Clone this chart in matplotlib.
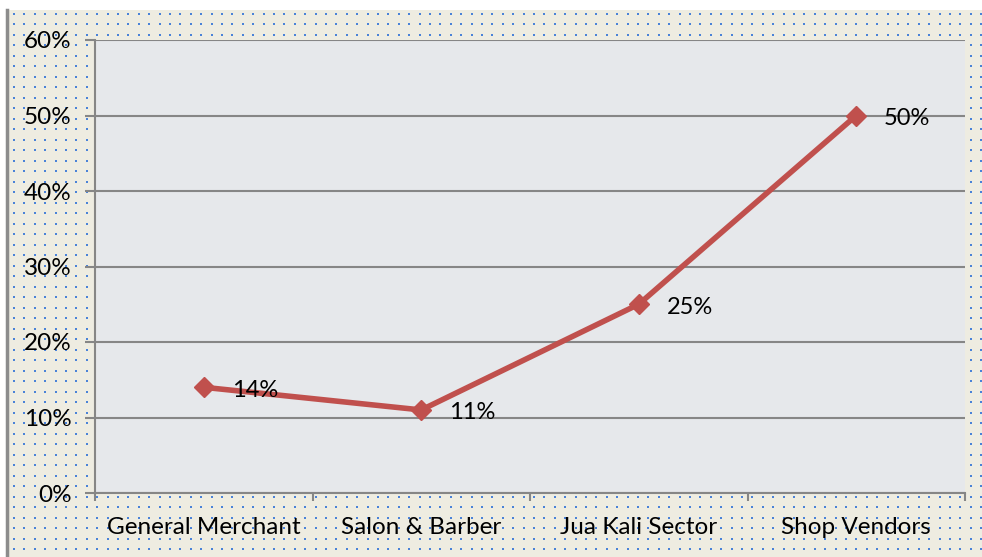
import numpy as np
import matplotlib.pyplot as plt
from matplotlib.patches import Rectangle
from matplotlib.ticker import FixedLocator, PercentFormatter

categories = ['General Merchant', 'Salon & Barber', 'Jua Kali Sector', 'Shop Vendors']
shares = [0.14, 0.11, 0.25, 0.50]
labels = ['14%', '11%', '25%', '50%']

plt.rcParams['font.family'] = ['Lato', 'DejaVu Sans']

fig = plt.figure(figsize=(9.82, 5.57), dpi=100)

# background: beige frame with blue dot pattern (pixel coordinates)
bg = fig.add_axes([0, 0, 1, 1], zorder=-5)
bg.set_xlim(0, 982)
bg.set_ylim(557, 0)
bg.axis('off')
bg.add_patch(Rectangle((7, 10), 980, 550, facecolor='#eeece1', edgecolor='none'))
bg.plot([7.5, 7.5], [10, 557], color='#8c8c8c', lw=2.5)
gx, gy = np.meshgrid(np.arange(14, 982, 10.4), np.arange(13.5, 557, 10.5))
bg.scatter(gx.ravel(), gy.ravel(), s=2.6, marker='s', color='#4a82d8', linewidths=0)

ax = fig.add_axes([95/982, 1 - 493/557, 870/982, 453/557])
ax.set_facecolor('#e6e8eb')

x = range(len(categories))
ax.plot(x, shares, color='#c0504d', lw=4, marker='D', markersize=10,
        markerfacecolor='#c0504d', markeredgecolor='#c0504d', zorder=3)
for xi, v, t in zip(x, shares, labels):
    ax.annotate(t, (xi, v), xytext=(20, -2), textcoords='offset points',
                ha='left', va='center', fontsize=17, color='black')

ax.set_xlim(-0.5, 3.5)
ax.set_ylim(0, 0.6)
ax.set_yticks([0, 0.1, 0.2, 0.3, 0.4, 0.5, 0.6])
ax.yaxis.set_major_formatter(PercentFormatter(1.0, decimals=0))
ax.grid(axis='y', color='#868686', lw=1.5)
ax.set_axisbelow(True)

ax.set_xticks(list(x))
ax.set_xticklabels(categories)
ax.xaxis.set_minor_locator(FixedLocator([-0.5, 0.5, 1.5, 2.5, 3.5]))
ax.tick_params(axis='x', which='major', length=0, pad=17, labelsize=17.5)
ax.tick_params(axis='x', which='minor', length=6, width=1.5, color='#868686')
ax.tick_params(axis='y', length=7, width=1.5, color='#868686', labelsize=17.5, pad=10)

for s in ['top', 'right']:
    ax.spines[s].set_visible(False)
for s in ['left', 'bottom']:
    ax.spines[s].set_color('#868686')
    ax.spines[s].set_linewidth(1.5)

fig.savefig('out.png', dpi=100)
